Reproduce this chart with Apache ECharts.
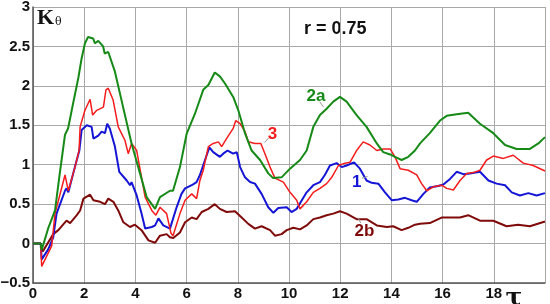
<!DOCTYPE html>
<html>
<head>
<meta charset="utf-8">
<script src="https://cdn.jsdelivr.net/npm/echarts@6/dist/echarts.min.js"></script>
<style>
  html, body { margin: 0; padding: 0; background: #fff; }
  #main { width: 550px; height: 304px; }
</style>
</head>
<body>
<div id="main"></div>
<script>
// tau ticks and y ticks
var xTicks = [0, 2, 4, 6, 8, 10, 12, 14, 16, 18, 20];
var yTicks = [-0.5, 0, 0.5, 1, 1.5, 2, 2.5, 3];

// curve 2a (green)
var curve2a = [[0,0],[0.3,0],[0.34,-0.08],[0.6,0.2],[0.86,0.42],[1.05,0.9],[1.25,1.38],[1.37,1.46],[1.55,1.75],[1.77,2.1],[1.9,2.35],[2.03,2.54],[2.15,2.62],[2.35,2.6],[2.42,2.54],[2.55,2.57],[2.74,2.5],[2.8,2.41],[2.94,2.43],[3.2,2.18],[3.52,1.73],[3.85,1.27],[4.18,0.89],[4.44,0.59],[4.77,0.44],[4.96,0.59],[5.35,0.67],[5.47,0.67],[5.74,0.97],[6.0,1.39],[6.33,1.65],[6.65,1.95],[6.85,2.01],[7.1,2.17],[7.3,2.12],[7.5,2.03],[7.82,1.86],[8.02,1.69],[8.28,1.4],[8.54,1.18],[8.87,1.06],[9.19,0.89],[9.38,0.83],[9.71,0.84],[10.04,0.95],[10.43,1.06],[10.69,1.18],[10.95,1.48],[11.21,1.63],[11.47,1.71],[11.73,1.8],[11.99,1.86],[12.25,1.8],[12.64,1.63],[13.03,1.48],[13.43,1.27],[13.68,1.16],[13.95,1.13],[14.14,1.1],[14.4,1.06],[14.66,1.1],[14.92,1.18],[15.12,1.27],[15.5,1.4],[15.9,1.56],[16.16,1.62],[16.55,1.64],[17.0,1.66],[17.46,1.52],[17.98,1.4],[18.44,1.25],[18.89,1.2],[19.41,1.2],[19.74,1.27],[20,1.35]];

// curve 3 (red)
var curve3 = [[0,0],[0.3,0],[0.34,-0.29],[0.73,-0.03],[0.86,0.38],[1.25,0.87],[1.38,0.67],[1.64,0.97],[1.8,1.18],[1.84,1.48],[2.03,1.69],[2.23,1.83],[2.33,1.63],[2.49,1.69],[2.75,1.73],[2.85,1.95],[2.94,1.97],[3.13,1.82],[3.33,1.48],[3.59,1.31],[3.72,1.14],[3.85,1.27],[4.05,1.18],[4.24,0.84],[4.38,0.59],[4.64,0.42],[4.8,0.36],[4.96,0.46],[5.22,0.38],[5.39,0.13],[5.47,0.1],[5.74,0.38],[5.94,0.55],[6.2,0.63],[6.39,0.57],[6.52,0.8],[6.65,0.93],[6.85,1.23],[7.04,1.27],[7.24,1.29],[7.37,1.23],[7.56,1.33],[7.82,1.46],[7.92,1.56],[8.09,1.52],[8.28,1.42],[8.41,1.29],[8.67,1.27],[8.9,1.27],[9.06,1.14],[9.26,0.97],[9.45,0.83],[9.78,0.78],[10.04,0.65],[10.3,0.55],[10.43,0.44],[10.69,0.53],[10.95,0.65],[11.21,0.7],[11.47,0.76],[11.67,0.84],[11.93,0.99],[12.19,1.02],[12.38,1.03],[12.64,1.18],[12.9,1.29],[13.16,1.25],[13.43,1.18],[13.68,1.2],[13.95,1.2],[14.14,1.1],[14.34,0.95],[14.66,0.93],[14.99,0.87],[15.18,0.76],[15.38,0.67],[15.64,0.72],[15.96,0.74],[16.16,0.7],[16.42,0.68],[16.68,0.8],[16.94,0.89],[17.2,0.9],[17.46,0.93],[17.72,1.06],[17.98,1.11],[18.37,1.08],[18.76,1.12],[19.15,1.02],[19.54,0.99],[20,0.92]];

// curve 1 (blue)
var curve1 = [[0,0],[0.3,0],[0.34,-0.2],[0.6,-0.07],[0.79,0.08],[0.92,0.38],[1.25,0.67],[1.31,0.7],[1.38,0.65],[1.57,0.89],[1.81,1.18],[1.9,1.44],[2.1,1.5],[2.29,1.48],[2.36,1.33],[2.55,1.37],[2.68,1.42],[2.81,1.4],[2.9,1.52],[3.0,1.46],[3.2,1.23],[3.37,0.91],[3.66,0.8],[3.79,0.74],[3.85,0.78],[4.05,0.61],[4.24,0.38],[4.38,0.19],[4.64,0.21],[4.77,0.23],[4.9,0.32],[5.09,0.23],[5.35,0.19],[5.42,0.17],[5.61,0.46],[5.8,0.63],[5.94,0.7],[6.2,0.74],[6.39,0.78],[6.52,0.87],[6.72,1.06],[6.89,1.22],[7.04,1.16],[7.3,1.1],[7.43,1.14],[7.6,1.18],[7.82,1.14],[7.96,1.16],[8.09,0.97],[8.28,0.84],[8.48,0.78],[8.67,0.76],[8.93,0.63],[9.19,0.46],[9.39,0.39],[9.58,0.45],[9.91,0.46],[10.1,0.4],[10.3,0.44],[10.43,0.51],[10.69,0.65],[10.95,0.74],[11.21,0.78],[11.4,0.87],[11.6,0.99],[11.86,1.02],[12.06,0.97],[12.25,0.99],[12.54,1.03],[12.77,0.95],[13.03,0.8],[13.23,0.77],[13.49,0.76],[13.75,0.65],[14.01,0.55],[14.27,0.56],[14.53,0.58],[14.79,0.55],[14.99,0.53],[15.25,0.63],[15.5,0.71],[15.83,0.73],[16.03,0.75],[16.29,0.82],[16.55,0.91],[16.81,0.88],[17.07,0.89],[17.46,0.91],[17.79,0.8],[18.11,0.76],[18.44,0.74],[18.7,0.65],[19.02,0.61],[19.35,0.64],[19.67,0.61],[20,0.64]];

// curve 2b (dark red)
var curve2b = [[0,0],[0.3,0],[0.38,-0.1],[0.79,0.12],[0.99,0.17],[1.31,0.29],[1.45,0.26],[1.71,0.36],[1.84,0.42],[1.97,0.57],[2.23,0.62],[2.36,0.55],[2.62,0.53],[2.81,0.5],[2.94,0.57],[3.14,0.53],[3.33,0.42],[3.53,0.27],[3.79,0.21],[3.98,0.24],[4.24,0.17],[4.51,0.04],[4.77,0.01],[4.96,0.1],[5.22,0.12],[5.35,0.08],[5.48,0.07],[5.74,0.14],[5.94,0.27],[6.2,0.33],[6.39,0.31],[6.59,0.4],[6.85,0.44],[7.1,0.5],[7.3,0.44],[7.56,0.4],[7.89,0.41],[8.15,0.33],[8.41,0.25],[8.67,0.19],[8.93,0.22],[9.26,0.17],[9.45,0.1],[9.71,0.12],[9.91,0.17],[10.17,0.2],[10.43,0.18],[10.69,0.23],[10.95,0.31],[11.21,0.33],[11.47,0.36],[11.73,0.38],[11.99,0.41],[12.25,0.38],[12.64,0.31],[13.03,0.31],[13.43,0.23],[13.82,0.21],[14.07,0.22],[14.4,0.17],[14.66,0.2],[14.92,0.24],[15.12,0.25],[15.5,0.26],[15.96,0.33],[16.35,0.33],[16.68,0.33],[17.0,0.36],[17.46,0.29],[17.98,0.29],[18.5,0.22],[18.95,0.24],[19.41,0.22],[20,0.28]];

// curve labels: text, label position, leader line start/end (data units)
var labels2a = {text: '2a', at: [11.05, 1.87], lead: [[11.2, 1.8], [11.35, 1.73]]};
var labels3 = {text: '3', at: [9.35, 1.39], lead: [[9.2, 1.34], [9.05, 1.28]]};
var labels1 = {text: '1', at: [12.65, 0.78], lead: [[12.85, 0.83], [13.07, 0.85]]};
var labels2b = {text: '2b', at: [12.95, 0.15], lead: [[12.8, 0.26], [12.7, 0.33]]};

var rText = 'r = 0.75';

document.addEventListener('DOMContentLoaded', function () {
    var chart = echarts.init(document.getElementById('main'));
    var font = '"Liberation Sans", Arial, sans-serif';

    function makeSeries(name, data, color, width, lab) {
        return {
            name: name,
            type: 'line',
            data: data,
            symbol: 'none',
            smooth: false,
            lineStyle: { color: color, width: width },
            z: 3,
            markPoint: {
                symbol: 'circle',
                symbolSize: 0,
                silent: true,
                data: [{
                    coord: lab.at,
                    label: {
                        show: true,
                        formatter: lab.text,
                        position: 'inside',
                        color: color,
                        fontFamily: font,
                        fontWeight: 'bold',
                        fontSize: 17
                    }
                }]
            },
            markLine: {
                symbol: 'none',
                silent: true,
                label: { show: false },
                lineStyle: { color: '#999', width: 1, type: 'solid' },
                data: [[{ coord: lab.lead[0] }, { coord: lab.lead[1] }]]
            }
        };
    }

    var option = {
        backgroundColor: '#fff',
        animation: false,
        grid: { left: 33, right: 5, top: 7, bottom: 21, containLabel: false, outerBoundsMode: 'none' },
        xAxis: {
            type: 'value',
            min: 0,
            max: 20,
            interval: 2,
            axisLine: { show: true, onZero: false, lineStyle: { color: '#555', width: 1.5 } },
            axisTick: { show: false },
            splitLine: { show: true, lineStyle: { color: '#a8a8a8', width: 1 } },
            axisLabel: {
                margin: 3,
                color: '#111',
                fontFamily: font,
                fontWeight: 'bold',
                fontSize: 15,
                formatter: function (v) {
                    if (v === 20) return '{tau|τ}';
                    return v;
                },
                rich: {
                    tau: { fontFamily: '"DejaVu Serif", "Liberation Serif", serif', fontSize: 25, color: '#111', padding: [0, 62, 8, 0] }
                }
            }
        },
        yAxis: {
            type: 'value',
            min: -0.5,
            max: 3,
            interval: 0.5,
            axisLine: { show: true, onZero: false, lineStyle: { color: '#555', width: 1.5 } },
            axisTick: { show: false },
            splitLine: { show: true, lineStyle: { color: '#a8a8a8', width: 1 } },
            axisLabel: {
                margin: 3,
                color: '#111',
                fontFamily: font,
                fontWeight: 'bold',
                fontSize: 15,
                formatter: function (v) {
                    return String(v).replace('-', '\u2212');
                }
            }
        },
        graphic: [
            {
                type: 'text',
                left: 37,
                top: 7,
                style: {
                    text: '{k|Κ}{t|θ}',
                    rich: {
                        k: { fontFamily: '"Liberation Serif", serif', fontWeight: 'bold', fontSize: 22, fill: '#111' },
                        t: { fontFamily: '"DejaVu Serif", serif', fontSize: 11, fill: '#111', padding: [9, 0, 0, 1] }
                    }
                }
            },
            {
                type: 'text',
                left: 304,
                top: 20,
                style: {
                    text: rText,
                    fontFamily: font,
                    fontWeight: 'bold',
                    fontSize: 18,
                    fill: '#111'
                }
            }
        ],
        series: [
            makeSeries('2b', curve2b, '#7f0a0a', 2, labels2b),
            makeSeries('1', curve1, '#1515d6', 2, labels1),
            makeSeries('3', curve3, '#f51c1c', 1.5, labels3),
            makeSeries('2a', curve2a, '#168a16', 2, labels2a)
        ]
    };

    chart.setOption(option);
});
</script>
</body>
</html>
